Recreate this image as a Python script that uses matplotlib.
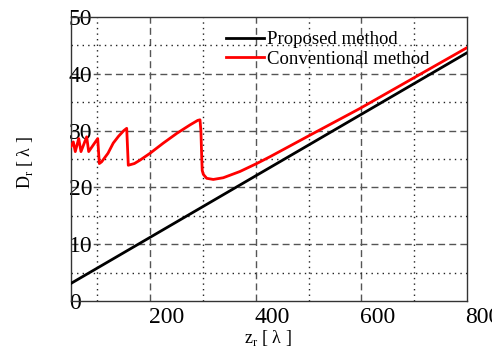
import matplotlib
matplotlib.use("Agg")
import matplotlib.pyplot as plt
import matplotlib.transforms as mtransforms

plt.rcParams['font.family'] = ['Liberation Serif', 'DejaVu Serif']
plt.rcParams['mathtext.fontset'] = 'custom'
plt.rcParams['mathtext.rm'] = 'Liberation Serif'

# proposed method: straight line
z_prop = [50, 800]
d_prop = [3.1, 43.7]

# conventional method: sawtooth at small z, then smooth rise
z_conv = [50, 54.4, 58.1, 64.6, 68.9, 79.7, 83.5, 100.6, 103.6,
          108, 120, 130, 140, 150, 155.5, 158.5,
          170, 180.7, 199.6, 224.8, 250.2, 275.4, 290, 294.3, 296, 297.5,
          298.5, 300.6, 307, 319.5, 338.4, 370, 401.7, 426.9, 502.7, 597.3, 692, 800]
d_conv = [27.2, 28.0, 26.3, 28.6, 26.3, 28.9, 26.3, 28.6, 24.2,
          24.5, 26.0, 27.8, 29.0, 30.0, 30.4, 23.9,
          24.2, 24.8, 26.0, 27.8, 29.5, 31.0, 31.8, 31.9, 30.0, 25.5,
          23.0, 22.3, 21.6, 21.4, 21.7, 22.8, 24.2, 25.4, 29.2, 33.9, 38.9, 44.6]

x_ticks = [200, 400, 600, 800]
y_ticks = [0, 10, 20, 30, 40, 50]

fig = plt.figure(figsize=(4.92, 3.52), dpi=100)
ax = fig.add_axes([71/492, 51/352, 396/492, 284/352])

# grid: dashed at labelled ticks, dotted halfway between
for x in [200, 400, 600]:
    ax.axvline(x, color='#555555', lw=1.0, ls=(0, (5, 3)), zorder=1)
for x in [100, 300, 500, 700]:
    ax.axvline(x, color='#222222', lw=1.0, ls=(0, (1, 3)), zorder=1)
for y in [10, 20, 30, 40]:
    ax.axhline(y, color='#555555', lw=1.0, ls=(0, (5, 3)), zorder=1)
for y in [5, 15, 25, 35, 45]:
    ax.axhline(y, color='#222222', lw=1.0, ls=(0, (1, 3)), zorder=1)

ax.plot(z_prop, d_prop, color='black', lw=2.0, label='Proposed method', zorder=3)
ax.plot(z_conv, d_conv, color='red', lw=2.0, label='Conventional method', zorder=3)

ax.set_xlim(50, 800)
ax.set_ylim(0, 50)
ax.set_xticks(x_ticks)
ax.set_yticks(y_ticks)
ax.tick_params(length=0, labelsize=17)
ax.tick_params(axis='y', pad=1.5)
ax.tick_params(axis='x', pad=4)
for lab in ax.get_yticklabels():
    lab.set_horizontalalignment('left')
shift = mtransforms.ScaledTranslation(16/100, 0, fig.dpi_scale_trans)
for lab in ax.get_xticklabels():
    lab.set_transform(lab.get_transform() + shift)

for s in ax.spines.values():
    s.set_color('#333333')
    s.set_linewidth(1.0)

fig.text(268/492, 1 - 338/352, 'z$_{\\mathrm{r}}$ [ λ ]', ha='center', va='center', fontsize=13)
fig.text(25/492, 1 - 163/352, 'D$_{\\mathrm{r}}$ [ λ ]', ha='center', va='center',
         fontsize=13, rotation=90)

ax.legend(loc='upper left', bbox_to_anchor=(226/492, 1 - 31/352),
          bbox_transform=fig.transFigure, frameon=False, fontsize=13.5,
          handlelength=2.0, handletextpad=0.2, labelspacing=0.12,
          borderpad=0, borderaxespad=0)

fig.savefig('out.png', dpi=100)
